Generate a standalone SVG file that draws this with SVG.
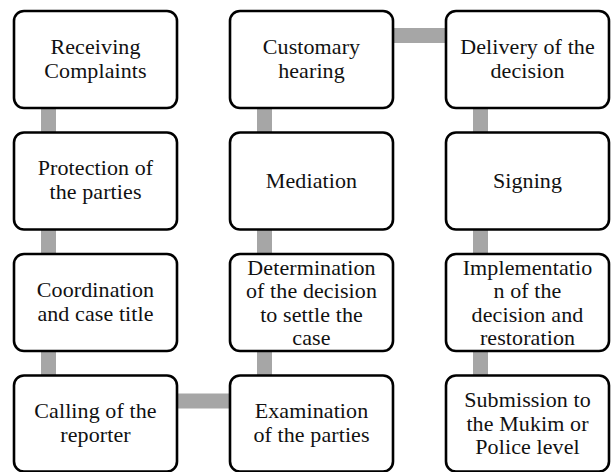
<svg xmlns="http://www.w3.org/2000/svg" width="611" height="472" viewBox="0 0 611 472">
<style>
.box{fill:#fff;stroke:#000;stroke-width:2.6}
.bar{stroke:#a6a6a6;stroke-width:15;fill:none}
text{font-family:"Liberation Serif","Times New Roman",serif;font-size:22px;letter-spacing:0.1px;fill:#111;text-anchor:middle}
</style>
<rect width="611" height="472" fill="#fff"/>
<g id="connectors">
<line class="bar" x1="48.5" y1="100" x2="48.5" y2="385"/>
<line class="bar" x1="264.5" y1="100" x2="264.5" y2="385"/>
<line class="bar" x1="480.5" y1="100" x2="480.5" y2="385"/>
<line class="bar" x1="385" y1="35.5" x2="455" y2="35.5"/>
<line class="bar" x1="170" y1="401" x2="240" y2="401"/>
</g>
<g id="n1"><rect class="box" x="14" y="11" width="163" height="97" rx="10"/><text x="95.5" y="54">Receiving</text><text x="95.5" y="78">Complaints</text></g>
<g id="n2"><rect class="box" x="14" y="132.5" width="163" height="97" rx="10"/><text x="95.5" y="175">Protection of</text><text x="95.5" y="199">the parties</text></g>
<g id="n3"><rect class="box" x="14" y="254" width="163" height="97" rx="10"/><text x="95.5" y="296.5">Coordination</text><text x="95.5" y="320.5">and case title</text></g>
<g id="n4"><rect class="box" x="14" y="375.5" width="163" height="96" rx="10"/><text x="95.5" y="418">Calling of the</text><text x="95.5" y="442">reporter</text></g>
<g id="n5"><rect class="box" x="230" y="375.5" width="163" height="96" rx="10"/><text x="311.5" y="418">Examination</text><text x="311.5" y="442">of the parties</text></g>
<g id="n6"><rect class="box" x="230" y="254" width="163" height="97" rx="10"/><text x="311.5" y="274.5">Determination</text><text x="311.5" y="298">of the decision</text><text x="311.5" y="321.5">to settle the</text><text x="311.5" y="345">case</text></g>
<g id="n7"><rect class="box" x="230" y="132.5" width="163" height="97" rx="10"/><text x="311.5" y="188">Mediation</text></g>
<g id="n8"><rect class="box" x="230" y="11" width="163" height="97" rx="10"/><text x="311.5" y="54">Customary</text><text x="311.5" y="78">hearing</text></g>
<g id="n9"><rect class="box" x="446" y="11" width="163" height="97" rx="10"/><text x="527.5" y="54">Delivery of the</text><text x="527.5" y="78">decision</text></g>
<g id="n10"><rect class="box" x="446" y="132.5" width="163" height="97" rx="10"/><text x="527.5" y="188">Signing</text></g>
<g id="n11"><rect class="box" x="446" y="254" width="163" height="97" rx="10"/><text x="527.5" y="274.5">Implementatio</text><text x="527.5" y="298">n of the</text><text x="527.5" y="321.5">decision and</text><text x="527.5" y="345">restoration</text></g>
<g id="n12"><rect class="box" x="446" y="375.5" width="163" height="96" rx="10"/><text x="527.5" y="407">Submission to</text><text x="527.5" y="430.5">the Mukim or</text><text x="527.5" y="454">Police level</text></g>
</svg>
